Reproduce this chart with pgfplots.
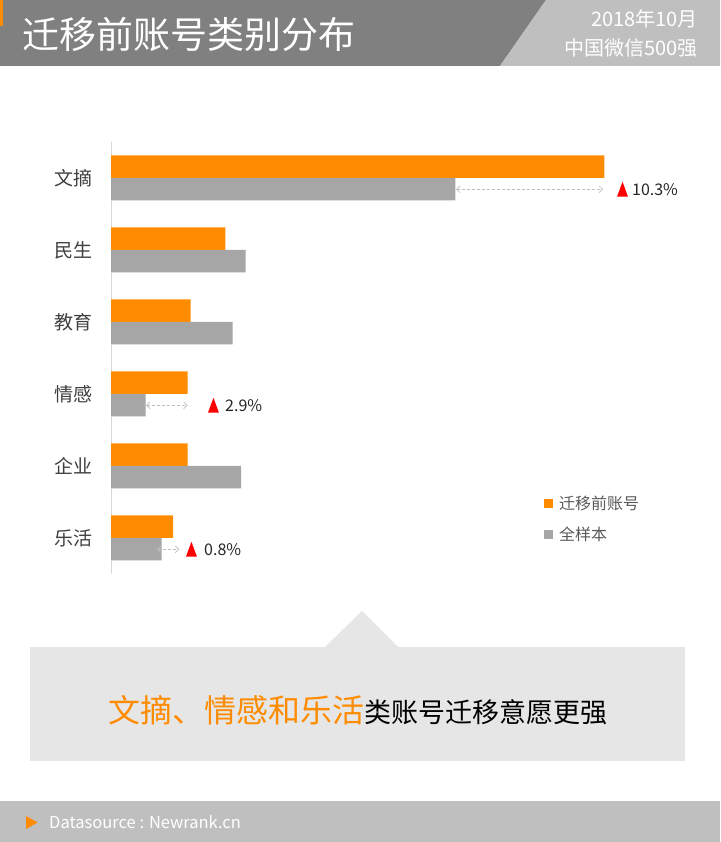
\documentclass[border=0pt]{standalone}
\usepackage{pgfplots}
\pgfplotsset{compat=1.18}
\usepackage{fontspec}
\setmainfont{Noto Sans CJK SC}
\usetikzlibrary{arrows.meta}
\definecolor{orangeC}{HTML}{FF8C00}
\definecolor{barGray}{HTML}{A6A6A6}
\definecolor{headDark}{HTML}{808080}
\definecolor{headLight}{HTML}{BFBFBF}
\definecolor{boxGray}{HTML}{E6E6E6}
\definecolor{footGray}{HTML}{BFBFBF}
\definecolor{labelC}{HTML}{404040}
\definecolor{legendC}{HTML}{595959}
\definecolor{axisC}{HTML}{D9D9D9}
\definecolor{arrowC}{HTML}{BFBFBF}
\definecolor{noteC}{HTML}{262626}
\newcommand{\fs}[1]{\fontsize{#1}{#1}\selectfont}
\newcommand{\gapnote}[6]{%
  \draw[arrowC, line width=0.7pt, dash pattern=on 3pt off 2pt,
        {Straight Barb[length=3.5pt,width=7pt]}-{Straight Barb[length=3.5pt,width=7pt]}]
    ([yshift=-11.25pt]axis cs:#2,#1) -- ([yshift=-11.25pt]axis cs:#3,#1);
  \fill[red] ([yshift=-18.75pt]axis cs:#4,#1) -- ++(11pt,0pt) -- ++(-5.5pt,15pt) -- cycle;
  \node[anchor=west, inner sep=0pt, font=\fs{16}, text=noteC] at ([yshift=-12pt]axis cs:#5,#1) {#6};
}
\begin{document}
\begin{tikzpicture}[x=1pt,y=1pt]
\useasboundingbox (0,0) rectangle (720,842);
\fill[white] (0,0) rectangle (720,842);
% header
\fill[headDark] (0,842) -- (546,842) -- (500,776) -- (0,776) -- cycle;
\fill[headLight] (546,842) -- (720,842) -- (720,776) -- (500,776) -- cycle;
\fill[orangeC] (0,842) rectangle (3,816);
\node[anchor=west, inner sep=0pt, text=white, font=\fs{37}] at (22,808) {迁移前账号类别分布};
\node[anchor=east, inner sep=0pt, text=white, font=\fs{20}] at (698,823) {2018年10月};
\node[anchor=east, inner sep=0pt, text=white, font=\fs{20}] at (698,794) {中国微信500强};
% callout
\fill[boxGray] (30,195) rectangle (685,81);
\fill[boxGray] (325,195) -- (362,231) -- (398,195) -- cycle;
\node[anchor=base west, inner sep=0pt] at (108,119) {{\fs{32}\color{orangeC}文摘、情感和乐活}{\fs{27}\color{black}类账号迁移意愿更强}};
% footer
\fill[footGray] (0,0) rectangle (720,41);
\fill[orangeC] (26,13) -- (37.6,19.5) -- (26,26) -- cycle;
\node[anchor=west, inner sep=0pt, text=white, font=\fs{16.5}] at (49,20) {Datasource : Newrank.cn};
\begin{axis}[
  at={(111pt,268pt)}, anchor=south west,
  scale only axis, width=578.8pt, height=432pt,
  xmin=0, xmax=40, ymin=-0.5, ymax=5.5,
  xbar, bar width=22.5pt,
  axis x line=none,
  axis y line*=left,
  y axis line style={draw=axisC, line width=1pt},
  ytick={0,1,2,3,4,5},
  yticklabels={乐活,企业,情感,教育,民生,文摘},
  major tick length=0pt,
  ytick style={draw=none},
  yticklabel style={font=\fs{19}, text=labelC, inner sep=0pt, xshift=-18pt},
  clip=false,
  legend image code/.code={\fill[#1] (0pt,-4.5pt) rectangle (9pt,4.5pt);},
  legend style={at={(0.748,0.181)}, anchor=north west, draw=none, fill=none,
    inner sep=0pt, font=\fs{16}, text=legendC, row sep=16pt, column sep=6pt,
    nodes={inner sep=0pt}},
  legend cell align=left,
]
\addplot[fill=orangeC, draw=none, bar shift=11.25pt] coordinates {
  (34.1,5) (7.9,4) (5.5,3) (5.3,2) (5.3,1) (4.3,0)};
\addlegendentry{迁移前账号}
\addplot[fill=barGray, draw=none, bar shift=-11.25pt] coordinates {
  (23.8,5) (9.3,4) (8.4,3) (2.4,2) (9.0,1) (3.5,0)};
\addlegendentry{全样本}
\gapnote{5}{23.85}{34.0}{34.97}{36.0}{10.3\%}
\gapnote{2}{2.42}{5.3}{6.70}{7.88}{2.9\%}
\gapnote{0}{3.18}{4.70}{5.18}{6.43}{0.8\%}
\end{axis}
\end{tikzpicture}
\end{document}
